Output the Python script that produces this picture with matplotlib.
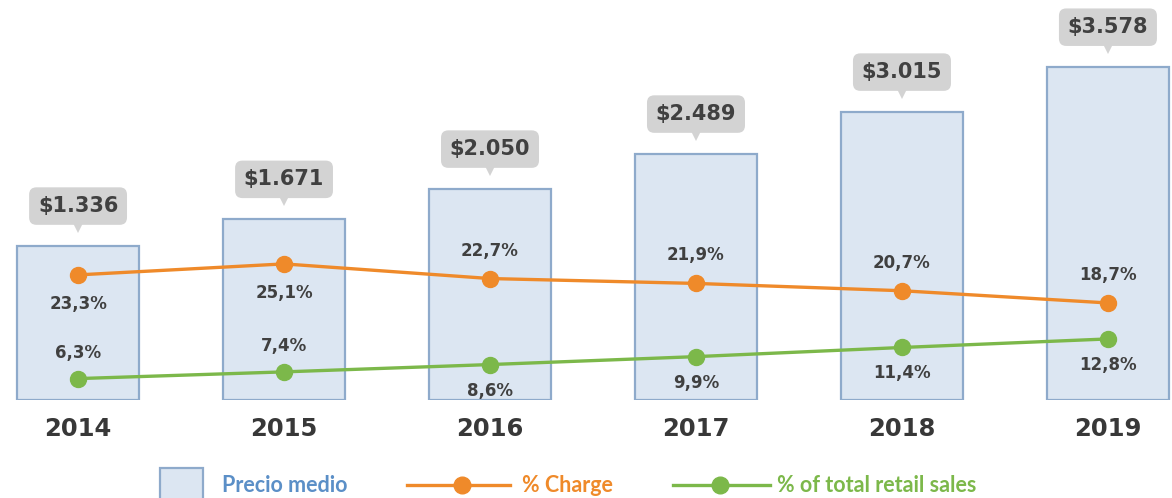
import numpy as np
import matplotlib
matplotlib.use("Agg")
import matplotlib.pyplot as plt
import matplotlib.transforms as mtransforms
from matplotlib.lines import Line2D
from matplotlib.patches import Rectangle

plt.rcParams['font.family'] = ['DejaVu Sans']

years = ['2014', '2015', '2016', '2017', '2018', '2019']
precio_medio = [1336, 1671, 2050, 2489, 3015, 3578]
precio_labels = ['$1.336', '$1.671', '$2.050', '$2.489', '$3.015', '$3.578']
pct_charge = [23.3, 25.1, 22.7, 21.9, 20.7, 18.7]
pct_retail = [6.3, 7.4, 8.6, 9.9, 11.4, 12.8]
charge_label_pos = ['below', 'below', 'above', 'above', 'above', 'above']
retail_label_pos = ['above', 'above', 'below', 'below', 'below', 'below']
legend_labels = ['Precio medio', '% Charge', '% of total retail sales']

def fmt(v):
    return f"{v:.1f}%".replace('.', ',')

W, H = 1172, 498
fig = plt.figure(figsize=(W / 100, H / 100), dpi=100)
ax = fig.add_axes([0, 98 / H, 1, 400 / H])
ax2 = ax.twinx()

bar_fc = '#dce6f2'
bar_ec = '#8eaacb'
x = np.arange(len(years))
base = -593
ax.bar(x, np.array(precio_medio) - base, bottom=base, width=0.59,
       color=bar_fc, edgecolor=bar_ec, linewidth=1.6, zorder=1)
ax.set_xlim(-0.379, 5.311)
ax.set_ylim(base, 4420)

text_col = '#404040'
box_off = mtransforms.offset_copy(ax.transData, fig=fig, x=0, y=40, units='dots')
tip_off = mtransforms.offset_copy(ax.transData, fig=fig, x=0, y=21, units='dots')
for xi, v, lab in zip(x, precio_medio, precio_labels):
    ax.plot([xi], [v], transform=tip_off, marker='v', markersize=11,
            color='#d3d3d3', markeredgewidth=0, zorder=3, clip_on=False)
    ax.text(xi, v, lab, transform=box_off, ha='center', va='center',
            fontsize=15, fontweight='bold', color=text_col, zorder=4,
            bbox=dict(boxstyle='round,pad=0.42,rounding_size=0.35',
                      fc='#d3d3d3', ec='none'))

orange = '#ef8a2a'
green = '#7cb84a'
ax2.plot(x, pct_charge, color=orange, lw=2.4, marker='o', markersize=11.5, zorder=5)
ax2.plot(x, pct_retail, color=green, lw=2.4, marker='o', markersize=11.5, zorder=5)
ax2.set_ylim(2.79, 68.36)

for xi, v, pos in zip(x, pct_charge, charge_label_pos):
    dy = -29 if pos == 'below' else 28
    ax2.annotate(fmt(v), (xi, v), xytext=(0, dy), textcoords='offset pixels',
                 ha='center', va='center', fontsize=12, fontweight='bold', color=text_col)
for xi, v, pos in zip(x, pct_retail, retail_label_pos):
    dy = -26 if pos == 'below' else 26
    ax2.annotate(fmt(v), (xi, v), xytext=(0, dy), textcoords='offset pixels',
                 ha='center', va='center', fontsize=12, fontweight='bold', color=text_col)

for a in (ax, ax2):
    for s in a.spines.values():
        s.set_visible(False)
    a.set_yticks([])
ax.set_xticks(x)
ax.set_xticklabels(years)
ax.tick_params(axis='x', length=0, pad=12, labelsize=17.5, labelcolor='#383838')
for t in ax.get_xticklabels():
    t.set_fontweight('bold')

# legend (figure pixel coordinates, y measured from top)
def fy(py):
    return 1 - py / H

fig.patches.append(Rectangle((160 / W, fy(500)), 43 / W, 32 / H, transform=fig.transFigure,
                             facecolor=bar_fc, edgecolor=bar_ec, linewidth=1.6, clip_on=False))
leg_font = dict(family=['Lato', 'DejaVu Sans'], fontsize=15.5, fontweight='bold',
                va='center', ha='left')
fig.text(222 / W, fy(485), legend_labels[0], color='#5b8fc7', **leg_font)
fig.add_artist(Line2D([407 / W, 510 / W], [fy(485), fy(485)], transform=fig.transFigure,
                      color=orange, lw=2.4))
fig.add_artist(Line2D([462 / W], [fy(485)], transform=fig.transFigure,
                      color=orange, marker='o', markersize=12))
fig.text(522 / W, fy(485), legend_labels[1], color=orange, **leg_font)
fig.add_artist(Line2D([673 / W, 770 / W], [fy(485), fy(485)], transform=fig.transFigure,
                      color=green, lw=2.4))
fig.add_artist(Line2D([720 / W], [fy(485)], transform=fig.transFigure,
                      color=green, marker='o', markersize=12))
fig.text(777 / W, fy(485), legend_labels[2], color=green, **leg_font)

fig.savefig('out.png', dpi=100)
